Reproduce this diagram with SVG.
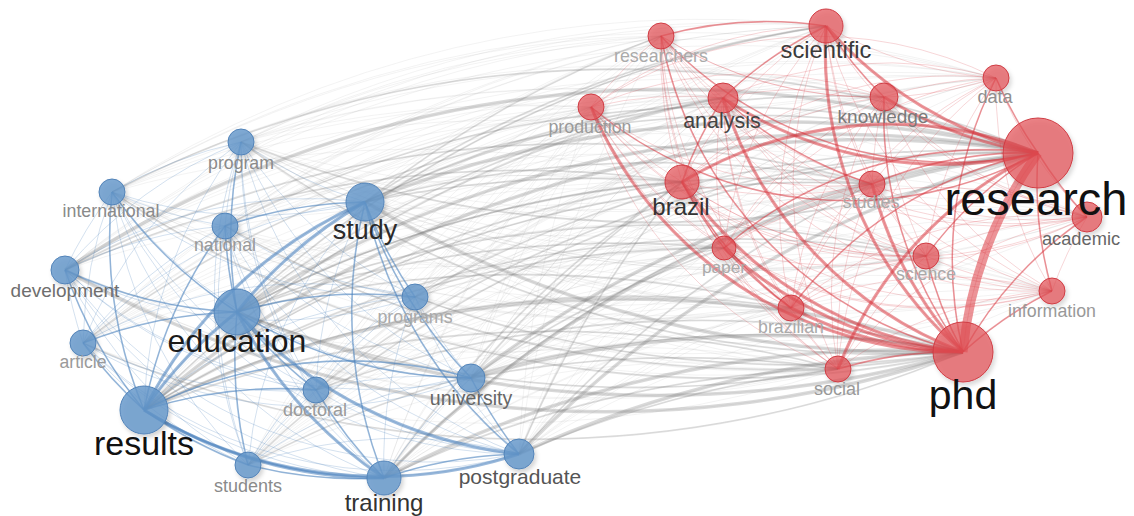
<svg xmlns="http://www.w3.org/2000/svg" width="1134" height="516" viewBox="0 0 1134 516">
<defs>
<filter id="sh" x="-50%" y="-50%" width="200%" height="200%"><feDropShadow dx="2" dy="3" stdDeviation="2" flood-color="#000" flood-opacity=".2"/></filter>
<style>
#edges path{fill:none}
.gl{stroke:#8c8c8c;stroke-opacity:.13;stroke-width:.8}
.gm{stroke:#7a7a7a;stroke-opacity:.22;stroke-width:1.8}
.gh{stroke:#777;stroke-opacity:.28;stroke-width:3.5}
.bl{stroke:#4a82bd;stroke-opacity:.3;stroke-width:.8}
.bm{stroke:#4a82bd;stroke-opacity:.5;stroke-width:1.6}
.bh{stroke:#4a82bd;stroke-opacity:.55;stroke-width:3.2}
.rl{stroke:#d8343c;stroke-opacity:.25;stroke-width:.8}
.rm{stroke:#d8343c;stroke-opacity:.45;stroke-width:1.6}
.rh{stroke:#d8343c;stroke-opacity:.5;stroke-width:3.2}
.rx{stroke:#dc3a42;stroke-opacity:.55;stroke-width:9}
.nb circle{fill:#6597cb;fill-opacity:.82;stroke:#5283b8;stroke-width:1;filter:url(#sh)}
.nr circle{fill:#e34e55;fill-opacity:.7;stroke:#cf3c43;stroke-width:1;filter:url(#sh)}
text{font-family:"Liberation Sans",Arial,sans-serif;text-anchor:middle}
</style>
</defs>
<rect width="1134" height="516" fill="#fff"/>
<g id="edges">
<g class="gl">
<path d="M65 270A1100 1100 0 0 1 591 107"/><path d="M65 270A1100 1100 0 0 1 661 36"/><path d="M65 270A1100 1100 0 0 1 682 182"/><path d="M65 270A1100 1100 0 0 1 723 98"/><path d="M65 270A1100 1100 0 0 1 724 248"/><path d="M65 270A1100 1100 0 0 0 791 308"/><path d="M65 270A1100 1100 0 0 1 826 26"/><path d="M65 270A1100 1100 0 0 0 838 369"/><path d="M65 270A1100 1100 0 0 1 872 184"/><path d="M65 270A1100 1100 0 0 1 884 97"/><path d="M65 270A1100 1100 0 0 1 926 256"/><path d="M65 270A1100 1100 0 0 0 963 352"/><path d="M65 270A1100 1100 0 0 1 996 78"/><path d="M65 270A1100 1100 0 0 1 1038 153"/><path d="M65 270A1100 1100 0 0 0 1052 291"/><path d="M65 270A1100 1100 0 0 1 1087 217"/>
<path d="M83 343A1100 1100 0 0 1 591 107"/><path d="M83 343A1100 1100 0 0 1 661 36"/><path d="M83 343A1100 1100 0 0 1 682 182"/><path d="M83 343A1100 1100 0 0 1 723 98"/><path d="M83 343A1100 1100 0 0 1 724 248"/><path d="M83 343A1100 1100 0 0 1 791 308"/><path d="M83 343A1100 1100 0 0 1 826 26"/><path d="M83 343A1100 1100 0 0 0 838 369"/><path d="M83 343A1100 1100 0 0 1 872 184"/><path d="M83 343A1100 1100 0 0 1 884 97"/><path d="M83 343A1100 1100 0 0 1 926 256"/><path d="M83 343A1100 1100 0 0 0 963 352"/><path d="M83 343A1100 1100 0 0 1 996 78"/><path d="M83 343A1100 1100 0 0 1 1038 153"/><path d="M83 343A1100 1100 0 0 1 1052 291"/><path d="M83 343A1100 1100 0 0 1 1087 217"/>
<path d="M112 192A1100 1100 0 0 1 591 107"/><path d="M112 192A1100 1100 0 0 1 661 36"/><path d="M112 192A1100 1100 0 0 1 682 182"/><path d="M112 192A1100 1100 0 0 1 723 98"/><path d="M112 192A1100 1100 0 0 0 724 248"/><path d="M112 192A1100 1100 0 0 0 791 308"/><path d="M112 192A1100 1100 0 0 1 826 26"/><path d="M112 192A1100 1100 0 0 0 838 369"/><path d="M112 192A1100 1100 0 0 1 872 184"/><path d="M112 192A1100 1100 0 0 1 884 97"/><path d="M112 192A1100 1100 0 0 0 926 256"/><path d="M112 192A1100 1100 0 0 0 963 352"/><path d="M112 192A1100 1100 0 0 1 996 78"/><path d="M112 192A1100 1100 0 0 1 1038 153"/><path d="M112 192A1100 1100 0 0 0 1052 291"/><path d="M112 192A1100 1100 0 0 0 1087 217"/>
<path d="M144 410A1100 1100 0 0 1 591 107"/><path d="M144 410A1100 1100 0 0 1 661 36"/><path d="M144 410A1100 1100 0 0 1 682 182"/><path d="M144 410A1100 1100 0 0 1 723 98"/><path d="M144 410A1100 1100 0 0 1 724 248"/><path d="M144 410A1100 1100 0 0 1 791 308"/><path d="M144 410A1100 1100 0 0 1 826 26"/><path d="M144 410A1100 1100 0 0 1 838 369"/><path d="M144 410A1100 1100 0 0 1 872 184"/><path d="M144 410A1100 1100 0 0 1 884 97"/><path d="M144 410A1100 1100 0 0 1 926 256"/><path d="M144 410A1100 1100 0 0 1 963 352"/><path d="M144 410A1100 1100 0 0 1 996 78"/><path d="M144 410A1100 1100 0 0 1 1038 153"/><path d="M144 410A1100 1100 0 0 1 1052 291"/><path d="M144 410A1100 1100 0 0 1 1087 217"/>
<path d="M225 226A1100 1100 0 0 1 591 107"/><path d="M225 226A1100 1100 0 0 1 661 36"/><path d="M225 226A1100 1100 0 0 1 682 182"/><path d="M225 226A1100 1100 0 0 1 723 98"/><path d="M225 226A1100 1100 0 0 0 724 248"/><path d="M225 226A1100 1100 0 0 0 791 308"/><path d="M225 226A1100 1100 0 0 1 826 26"/><path d="M225 226A1100 1100 0 0 0 838 369"/><path d="M225 226A1100 1100 0 0 1 872 184"/><path d="M225 226A1100 1100 0 0 1 884 97"/><path d="M225 226A1100 1100 0 0 0 926 256"/><path d="M225 226A1100 1100 0 0 0 963 352"/><path d="M225 226A1100 1100 0 0 1 996 78"/><path d="M225 226A1100 1100 0 0 1 1038 153"/><path d="M225 226A1100 1100 0 0 0 1052 291"/><path d="M225 226A1100 1100 0 0 1 1087 217"/>
<path d="M237 312A1100 1100 0 0 1 591 107"/><path d="M237 312A1100 1100 0 0 1 661 36"/><path d="M237 312A1100 1100 0 0 1 682 182"/><path d="M237 312A1100 1100 0 0 1 723 98"/><path d="M237 312A1100 1100 0 0 1 724 248"/><path d="M237 312A1100 1100 0 0 1 791 308"/><path d="M237 312A1100 1100 0 0 1 826 26"/><path d="M237 312A1100 1100 0 0 0 838 369"/><path d="M237 312A1100 1100 0 0 1 872 184"/><path d="M237 312A1100 1100 0 0 1 884 97"/><path d="M237 312A1100 1100 0 0 1 926 256"/><path d="M237 312A1100 1100 0 0 0 963 352"/><path d="M237 312A1100 1100 0 0 1 996 78"/><path d="M237 312A1100 1100 0 0 1 1038 153"/><path d="M237 312A1100 1100 0 0 1 1052 291"/><path d="M237 312A1100 1100 0 0 1 1087 217"/>
<path d="M241 142A1100 1100 0 0 1 591 107"/><path d="M241 142A1100 1100 0 0 1 661 36"/><path d="M241 142A1100 1100 0 0 0 682 182"/><path d="M241 142A1100 1100 0 0 1 723 98"/><path d="M241 142A1100 1100 0 0 0 724 248"/><path d="M241 142A1100 1100 0 0 0 791 308"/><path d="M241 142A1100 1100 0 0 1 826 26"/><path d="M241 142A1100 1100 0 0 0 838 369"/><path d="M241 142A1100 1100 0 0 0 872 184"/><path d="M241 142A1100 1100 0 0 1 884 97"/><path d="M241 142A1100 1100 0 0 0 926 256"/><path d="M241 142A1100 1100 0 0 0 963 352"/><path d="M241 142A1100 1100 0 0 1 996 78"/><path d="M241 142A1100 1100 0 0 0 1038 153"/><path d="M241 142A1100 1100 0 0 0 1052 291"/><path d="M241 142A1100 1100 0 0 0 1087 217"/>
<path d="M248 465A1100 1100 0 0 1 591 107"/><path d="M248 465A1100 1100 0 0 1 661 36"/><path d="M248 465A1100 1100 0 0 1 682 182"/><path d="M248 465A1100 1100 0 0 1 723 98"/><path d="M248 465A1100 1100 0 0 1 724 248"/><path d="M248 465A1100 1100 0 0 1 791 308"/><path d="M248 465A1100 1100 0 0 1 826 26"/><path d="M248 465A1100 1100 0 0 1 838 369"/><path d="M248 465A1100 1100 0 0 1 872 184"/><path d="M248 465A1100 1100 0 0 1 884 97"/><path d="M248 465A1100 1100 0 0 1 926 256"/><path d="M248 465A1100 1100 0 0 1 963 352"/><path d="M248 465A1100 1100 0 0 1 996 78"/><path d="M248 465A1100 1100 0 0 1 1038 153"/><path d="M248 465A1100 1100 0 0 1 1052 291"/><path d="M248 465A1100 1100 0 0 1 1087 217"/>
<path d="M316 390A1100 1100 0 0 1 591 107"/><path d="M316 390A1100 1100 0 0 1 661 36"/><path d="M316 390A1100 1100 0 0 1 682 182"/><path d="M316 390A1100 1100 0 0 1 723 98"/><path d="M316 390A1100 1100 0 0 1 724 248"/><path d="M316 390A1100 1100 0 0 1 791 308"/><path d="M316 390A1100 1100 0 0 1 826 26"/><path d="M316 390A1100 1100 0 0 1 838 369"/><path d="M316 390A1100 1100 0 0 1 872 184"/><path d="M316 390A1100 1100 0 0 1 884 97"/><path d="M316 390A1100 1100 0 0 1 926 256"/><path d="M316 390A1100 1100 0 0 1 963 352"/><path d="M316 390A1100 1100 0 0 1 996 78"/><path d="M316 390A1100 1100 0 0 1 1038 153"/><path d="M316 390A1100 1100 0 0 1 1052 291"/><path d="M316 390A1100 1100 0 0 1 1087 217"/>
<path d="M365 202A1100 1100 0 0 1 591 107"/><path d="M365 202A1100 1100 0 0 1 661 36"/><path d="M365 202A1100 1100 0 0 1 682 182"/><path d="M365 202A1100 1100 0 0 1 723 98"/><path d="M365 202A1100 1100 0 0 0 724 248"/><path d="M365 202A1100 1100 0 0 0 791 308"/><path d="M365 202A1100 1100 0 0 1 826 26"/><path d="M365 202A1100 1100 0 0 0 838 369"/><path d="M365 202A1100 1100 0 0 1 872 184"/><path d="M365 202A1100 1100 0 0 1 884 97"/><path d="M365 202A1100 1100 0 0 0 926 256"/><path d="M365 202A1100 1100 0 0 0 963 352"/><path d="M365 202A1100 1100 0 0 1 996 78"/><path d="M365 202A1100 1100 0 0 1 1038 153"/><path d="M365 202A1100 1100 0 0 0 1052 291"/><path d="M365 202A1100 1100 0 0 0 1087 217"/>
<path d="M384 478A1100 1100 0 0 1 591 107"/><path d="M384 478A1100 1100 0 0 1 661 36"/><path d="M384 478A1100 1100 0 0 1 682 182"/><path d="M384 478A1100 1100 0 0 1 723 98"/><path d="M384 478A1100 1100 0 0 1 724 248"/><path d="M384 478A1100 1100 0 0 1 791 308"/><path d="M384 478A1100 1100 0 0 1 826 26"/><path d="M384 478A1100 1100 0 0 1 838 369"/><path d="M384 478A1100 1100 0 0 1 872 184"/><path d="M384 478A1100 1100 0 0 1 884 97"/><path d="M384 478A1100 1100 0 0 1 926 256"/><path d="M384 478A1100 1100 0 0 1 963 352"/><path d="M384 478A1100 1100 0 0 1 996 78"/><path d="M384 478A1100 1100 0 0 1 1038 153"/><path d="M384 478A1100 1100 0 0 1 1052 291"/><path d="M384 478A1100 1100 0 0 1 1087 217"/>
<path d="M415 297A1100 1100 0 0 1 591 107"/><path d="M415 297A1100 1100 0 0 1 661 36"/><path d="M415 297A1100 1100 0 0 1 682 182"/><path d="M415 297A1100 1100 0 0 1 723 98"/><path d="M415 297A1100 1100 0 0 1 724 248"/><path d="M415 297A1100 1100 0 0 0 791 308"/><path d="M415 297A1100 1100 0 0 1 826 26"/><path d="M415 297A1100 1100 0 0 0 838 369"/><path d="M415 297A1100 1100 0 0 1 872 184"/><path d="M415 297A1100 1100 0 0 1 884 97"/><path d="M415 297A1100 1100 0 0 1 926 256"/><path d="M415 297A1100 1100 0 0 0 963 352"/><path d="M415 297A1100 1100 0 0 1 996 78"/><path d="M415 297A1100 1100 0 0 1 1038 153"/><path d="M415 297A1100 1100 0 0 1 1052 291"/><path d="M415 297A1100 1100 0 0 1 1087 217"/>
<path d="M471 378A1100 1100 0 0 1 591 107"/><path d="M471 378A1100 1100 0 0 1 661 36"/><path d="M471 378A1100 1100 0 0 1 682 182"/><path d="M471 378A1100 1100 0 0 1 723 98"/><path d="M471 378A1100 1100 0 0 1 724 248"/><path d="M471 378A1100 1100 0 0 1 791 308"/><path d="M471 378A1100 1100 0 0 1 826 26"/><path d="M471 378A1100 1100 0 0 1 838 369"/><path d="M471 378A1100 1100 0 0 1 872 184"/><path d="M471 378A1100 1100 0 0 1 884 97"/><path d="M471 378A1100 1100 0 0 1 926 256"/><path d="M471 378A1100 1100 0 0 1 963 352"/><path d="M471 378A1100 1100 0 0 1 996 78"/><path d="M471 378A1100 1100 0 0 1 1038 153"/><path d="M471 378A1100 1100 0 0 1 1052 291"/><path d="M471 378A1100 1100 0 0 1 1087 217"/>
<path d="M519 454A1100 1100 0 0 1 591 107"/><path d="M519 454A1100 1100 0 0 1 661 36"/><path d="M519 454A1100 1100 0 0 1 682 182"/><path d="M519 454A1100 1100 0 0 1 723 98"/><path d="M519 454A1100 1100 0 0 1 724 248"/><path d="M519 454A1100 1100 0 0 1 791 308"/><path d="M519 454A1100 1100 0 0 1 826 26"/><path d="M519 454A1100 1100 0 0 1 838 369"/><path d="M519 454A1100 1100 0 0 1 872 184"/><path d="M519 454A1100 1100 0 0 1 884 97"/><path d="M519 454A1100 1100 0 0 1 926 256"/><path d="M519 454A1100 1100 0 0 1 963 352"/><path d="M519 454A1100 1100 0 0 1 996 78"/><path d="M519 454A1100 1100 0 0 1 1038 153"/><path d="M519 454A1100 1100 0 0 1 1052 291"/><path d="M519 454A1100 1100 0 0 1 1087 217"/>
</g>
<g class="gm">
<path d="M365 202A1100 1100 0 0 1 661 36"/><path d="M365 202A1100 1100 0 0 1 682 182"/><path d="M365 202A1100 1100 0 0 1 826 26"/><path d="M365 202A1100 1100 0 0 1 723 98"/><path d="M365 202A1100 1100 0 0 1 872 184"/><path d="M365 202A1100 1100 0 0 1 884 97"/>
<path d="M237 312A1100 1100 0 0 1 682 182"/><path d="M237 312A1100 1100 0 0 1 826 26"/><path d="M237 312A1100 1100 0 0 1 723 98"/><path d="M237 312A1100 1100 0 0 1 872 184"/><path d="M237 312A1100 1100 0 0 1 724 248"/><path d="M237 312A1100 1100 0 0 1 791 308"/><path d="M237 312A1100 1100 0 0 0 838 369"/><path d="M237 312A1100 1100 0 0 1 926 256"/>
<path d="M144 410A1100 1100 0 0 1 682 182"/><path d="M144 410A1100 1100 0 0 1 872 184"/><path d="M144 410A1100 1100 0 0 1 724 248"/><path d="M144 410A1100 1100 0 0 1 791 308"/><path d="M144 410A1100 1100 0 0 1 838 369"/><path d="M144 410A1100 1100 0 0 1 723 98"/><path d="M144 410A1100 1100 0 0 1 926 256"/>
<path d="M65 270A1100 1100 0 0 1 682 182"/><path d="M65 270A1100 1100 0 0 1 872 184"/>
<path d="M83 343A1100 1100 0 0 1 1038 153"/><path d="M83 343A1100 1100 0 0 0 963 352"/>
<path d="M248 465A1100 1100 0 0 1 1038 153"/><path d="M248 465A1100 1100 0 0 1 963 352"/>
<path d="M316 390A1100 1100 0 0 1 1038 153"/><path d="M316 390A1100 1100 0 0 1 963 352"/>
<path d="M415 297A1100 1100 0 0 1 1038 153"/><path d="M415 297A1100 1100 0 0 0 963 352"/>
<path d="M225 226A1100 1100 0 0 1 1038 153"/><path d="M225 226A1100 1100 0 0 0 963 352"/>
<path d="M112 192A1100 1100 0 0 1 1038 153"/><path d="M112 192A1100 1100 0 0 0 963 352"/>
<path d="M241 142A1100 1100 0 0 0 1038 153"/><path d="M241 142A1100 1100 0 0 0 963 352"/>
<path d="M384 478A1100 1100 0 0 1 682 182"/><path d="M384 478A1100 1100 0 0 1 838 369"/><path d="M384 478A1100 1100 0 0 1 872 184"/>
<path d="M519 454A1100 1100 0 0 1 682 182"/><path d="M519 454A1100 1100 0 0 1 838 369"/><path d="M519 454A1100 1100 0 0 1 872 184"/>
<path d="M471 378A1100 1100 0 0 1 682 182"/><path d="M471 378A1100 1100 0 0 1 838 369"/><path d="M471 378A1100 1100 0 0 1 724 248"/>
</g>
<g class="gh">
<path d="M237 312A1100 1100 0 0 1 1038 153"/><path d="M237 312A1100 1100 0 0 0 963 352"/>
<path d="M144 410A1100 1100 0 0 1 1038 153"/><path d="M144 410A1100 1100 0 0 1 963 352"/>
<path d="M365 202A1100 1100 0 0 1 1038 153"/><path d="M365 202A1100 1100 0 0 0 963 352"/>
<path d="M384 478A1100 1100 0 0 1 1038 153"/><path d="M384 478A1100 1100 0 0 1 963 352"/>
<path d="M519 454A1100 1100 0 0 1 1038 153"/><path d="M519 454A1100 1100 0 0 1 963 352"/>
<path d="M471 378A1100 1100 0 0 1 1038 153"/><path d="M471 378A1100 1100 0 0 1 963 352"/>
<path d="M65 270A1100 1100 0 0 1 1038 153"/><path d="M65 270A1100 1100 0 0 0 963 352"/>
</g>
<g class="bl">
<path d="M65 270A450 450 0 0 0 83 343"/><path d="M65 270A450 450 0 0 1 112 192"/><path d="M65 270A450 450 0 0 0 144 410"/><path d="M65 270A450 450 0 0 1 225 226"/><path d="M65 270A450 450 0 0 0 237 312"/><path d="M65 270A450 450 0 0 1 241 142"/><path d="M65 270A450 450 0 0 0 248 465"/><path d="M65 270A450 450 0 0 0 316 390"/><path d="M65 270A450 450 0 0 1 365 202"/><path d="M65 270A450 450 0 0 0 384 478"/><path d="M65 270A450 450 0 0 0 415 297"/><path d="M65 270A450 450 0 0 0 471 378"/><path d="M65 270A450 450 0 0 0 519 454"/>
<path d="M83 343A450 450 0 0 1 112 192"/><path d="M83 343A450 450 0 0 0 144 410"/><path d="M83 343A450 450 0 0 1 225 226"/><path d="M83 343A450 450 0 0 1 237 312"/><path d="M83 343A450 450 0 0 1 241 142"/><path d="M83 343A450 450 0 0 0 248 465"/><path d="M83 343A450 450 0 0 0 316 390"/><path d="M83 343A450 450 0 0 1 365 202"/><path d="M83 343A450 450 0 0 0 384 478"/><path d="M83 343A450 450 0 0 1 415 297"/><path d="M83 343A450 450 0 0 0 471 378"/><path d="M83 343A450 450 0 0 0 519 454"/>
<path d="M112 192A450 450 0 0 0 144 410"/><path d="M112 192A450 450 0 0 0 225 226"/><path d="M112 192A450 450 0 0 0 237 312"/><path d="M112 192A450 450 0 0 1 241 142"/><path d="M112 192A450 450 0 0 0 248 465"/><path d="M112 192A450 450 0 0 0 316 390"/><path d="M112 192A450 450 0 0 0 365 202"/><path d="M112 192A450 450 0 0 0 384 478"/><path d="M112 192A450 450 0 0 0 415 297"/><path d="M112 192A450 450 0 0 0 471 378"/><path d="M112 192A450 450 0 0 0 519 454"/>
<path d="M144 410A450 450 0 0 1 225 226"/><path d="M144 410A450 450 0 0 1 237 312"/><path d="M144 410A450 450 0 0 1 241 142"/><path d="M144 410A450 450 0 0 0 248 465"/><path d="M144 410A450 450 0 0 1 316 390"/><path d="M144 410A450 450 0 0 1 365 202"/><path d="M144 410A450 450 0 0 0 384 478"/><path d="M144 410A450 450 0 0 1 415 297"/><path d="M144 410A450 450 0 0 1 471 378"/><path d="M144 410A450 450 0 0 0 519 454"/>
<path d="M225 226A450 450 0 0 0 237 312"/><path d="M225 226A450 450 0 0 1 241 142"/><path d="M225 226A450 450 0 0 0 248 465"/><path d="M225 226A450 450 0 0 0 316 390"/><path d="M225 226A450 450 0 0 1 365 202"/><path d="M225 226A450 450 0 0 0 384 478"/><path d="M225 226A450 450 0 0 0 415 297"/><path d="M225 226A450 450 0 0 0 471 378"/><path d="M225 226A450 450 0 0 0 519 454"/>
<path d="M237 312A450 450 0 0 1 241 142"/><path d="M237 312A450 450 0 0 0 248 465"/><path d="M237 312A450 450 0 0 0 316 390"/><path d="M237 312A450 450 0 0 1 365 202"/><path d="M237 312A450 450 0 0 0 384 478"/><path d="M237 312A450 450 0 0 1 415 297"/><path d="M237 312A450 450 0 0 0 471 378"/><path d="M237 312A450 450 0 0 0 519 454"/>
<path d="M241 142A450 450 0 0 0 248 465"/><path d="M241 142A450 450 0 0 0 316 390"/><path d="M241 142A450 450 0 0 0 365 202"/><path d="M241 142A450 450 0 0 0 384 478"/><path d="M241 142A450 450 0 0 0 415 297"/><path d="M241 142A450 450 0 0 0 471 378"/><path d="M241 142A450 450 0 0 0 519 454"/>
<path d="M248 465A450 450 0 0 1 316 390"/><path d="M248 465A450 450 0 0 1 365 202"/><path d="M248 465A450 450 0 0 0 384 478"/><path d="M248 465A450 450 0 0 1 415 297"/><path d="M248 465A450 450 0 0 1 471 378"/><path d="M248 465A450 450 0 0 1 519 454"/>
<path d="M316 390A450 450 0 0 1 365 202"/><path d="M316 390A450 450 0 0 0 384 478"/><path d="M316 390A450 450 0 0 1 415 297"/><path d="M316 390A450 450 0 0 1 471 378"/><path d="M316 390A450 450 0 0 0 519 454"/>
<path d="M365 202A450 450 0 0 0 384 478"/><path d="M365 202A450 450 0 0 0 415 297"/><path d="M365 202A450 450 0 0 0 471 378"/><path d="M365 202A450 450 0 0 0 519 454"/>
<path d="M384 478A450 450 0 0 1 415 297"/><path d="M384 478A450 450 0 0 1 471 378"/><path d="M384 478A450 450 0 0 1 519 454"/>
<path d="M415 297A450 450 0 0 0 471 378"/><path d="M415 297A450 450 0 0 0 519 454"/>
<path d="M471 378A450 450 0 0 0 519 454"/>
</g>
<g class="bm">
<path d="M65 270A450 450 0 0 0 237 312"/><path d="M225 226A450 450 0 0 0 237 312"/><path d="M83 343A450 450 0 0 0 144 410"/><path d="M83 343A450 450 0 0 1 237 312"/><path d="M112 192A450 450 0 0 0 237 312"/><path d="M237 312A450 450 0 0 1 241 142"/><path d="M144 410A450 450 0 0 0 248 465"/><path d="M144 410A450 450 0 0 1 316 390"/><path d="M237 312A450 450 0 0 0 316 390"/><path d="M237 312A450 450 0 0 0 248 465"/><path d="M365 202A450 450 0 0 0 471 378"/><path d="M365 202A450 450 0 0 0 519 454"/><path d="M365 202A450 450 0 0 0 384 478"/><path d="M384 478A450 450 0 0 1 519 454"/><path d="M471 378A450 450 0 0 0 519 454"/><path d="M237 312A450 450 0 0 1 415 297"/><path d="M365 202A450 450 0 0 0 415 297"/><path d="M144 410A450 450 0 0 1 471 378"/><path d="M237 312A450 450 0 0 0 471 378"/><path d="M225 226A450 450 0 0 1 365 202"/><path d="M248 465A450 450 0 0 0 384 478"/><path d="M316 390A450 450 0 0 0 384 478"/><path d="M65 270A450 450 0 0 0 144 410"/><path d="M112 192A450 450 0 0 0 144 410"/><path d="M144 410A450 450 0 0 1 225 226"/>
</g>
<g class="bh">
<path d="M144 410A450 450 0 0 1 237 312"/><path d="M237 312A450 450 0 0 1 365 202"/><path d="M144 410A450 450 0 0 1 365 202"/><path d="M237 312A450 450 0 0 0 519 454"/><path d="M144 410A450 450 0 0 0 384 478"/><path d="M144 410A450 450 0 0 0 519 454"/><path d="M237 312A450 450 0 0 0 384 478"/>
</g>
<g class="rl">
<path d="M591 107A400 400 0 0 1 661 36"/><path d="M591 107A400 400 0 0 0 682 182"/><path d="M591 107A400 400 0 0 1 723 98"/><path d="M591 107A400 400 0 0 0 724 248"/><path d="M591 107A400 400 0 0 0 791 308"/><path d="M591 107A400 400 0 0 1 826 26"/><path d="M591 107A400 400 0 0 0 838 369"/><path d="M591 107A400 400 0 0 0 872 184"/><path d="M591 107A400 400 0 0 1 884 97"/><path d="M591 107A400 400 0 0 0 926 256"/><path d="M591 107A400 400 0 0 0 963 352"/><path d="M591 107A400 400 0 0 1 996 78"/><path d="M591 107A400 400 0 0 0 1038 153"/><path d="M591 107A400 400 0 0 0 1052 291"/><path d="M591 107A400 400 0 0 0 1087 217"/>
<path d="M661 36A400 400 0 0 0 682 182"/><path d="M661 36A400 400 0 0 0 723 98"/><path d="M661 36A400 400 0 0 0 724 248"/><path d="M661 36A400 400 0 0 0 791 308"/><path d="M661 36A400 400 0 0 1 826 26"/><path d="M661 36A400 400 0 0 0 838 369"/><path d="M661 36A400 400 0 0 0 872 184"/><path d="M661 36A400 400 0 0 0 884 97"/><path d="M661 36A400 400 0 0 0 926 256"/><path d="M661 36A400 400 0 0 0 963 352"/><path d="M661 36A400 400 0 0 0 996 78"/><path d="M661 36A400 400 0 0 0 1038 153"/><path d="M661 36A400 400 0 0 0 1052 291"/><path d="M661 36A400 400 0 0 0 1087 217"/>
<path d="M682 182A400 400 0 0 1 723 98"/><path d="M682 182A400 400 0 0 0 724 248"/><path d="M682 182A400 400 0 0 0 791 308"/><path d="M682 182A400 400 0 0 1 826 26"/><path d="M682 182A400 400 0 0 0 838 369"/><path d="M682 182A400 400 0 0 0 872 184"/><path d="M682 182A400 400 0 0 1 884 97"/><path d="M682 182A400 400 0 0 0 926 256"/><path d="M682 182A400 400 0 0 0 963 352"/><path d="M682 182A400 400 0 0 1 996 78"/><path d="M682 182A400 400 0 0 1 1038 153"/><path d="M682 182A400 400 0 0 0 1052 291"/><path d="M682 182A400 400 0 0 0 1087 217"/>
<path d="M723 98A400 400 0 0 0 724 248"/><path d="M723 98A400 400 0 0 0 791 308"/><path d="M723 98A400 400 0 0 1 826 26"/><path d="M723 98A400 400 0 0 0 838 369"/><path d="M723 98A400 400 0 0 0 872 184"/><path d="M723 98A400 400 0 0 1 884 97"/><path d="M723 98A400 400 0 0 0 926 256"/><path d="M723 98A400 400 0 0 0 963 352"/><path d="M723 98A400 400 0 0 1 996 78"/><path d="M723 98A400 400 0 0 0 1038 153"/><path d="M723 98A400 400 0 0 0 1052 291"/><path d="M723 98A400 400 0 0 0 1087 217"/>
<path d="M724 248A400 400 0 0 0 791 308"/><path d="M724 248A400 400 0 0 1 826 26"/><path d="M724 248A400 400 0 0 0 838 369"/><path d="M724 248A400 400 0 0 1 872 184"/><path d="M724 248A400 400 0 0 1 884 97"/><path d="M724 248A400 400 0 0 0 926 256"/><path d="M724 248A400 400 0 0 0 963 352"/><path d="M724 248A400 400 0 0 1 996 78"/><path d="M724 248A400 400 0 0 1 1038 153"/><path d="M724 248A400 400 0 0 0 1052 291"/><path d="M724 248A400 400 0 0 1 1087 217"/>
<path d="M791 308A400 400 0 0 1 826 26"/><path d="M791 308A400 400 0 0 0 838 369"/><path d="M791 308A400 400 0 0 1 872 184"/><path d="M791 308A400 400 0 0 1 884 97"/><path d="M791 308A400 400 0 0 1 926 256"/><path d="M791 308A400 400 0 0 0 963 352"/><path d="M791 308A400 400 0 0 1 996 78"/><path d="M791 308A400 400 0 0 1 1038 153"/><path d="M791 308A400 400 0 0 1 1052 291"/><path d="M791 308A400 400 0 0 1 1087 217"/>
<path d="M826 26A400 400 0 0 0 838 369"/><path d="M826 26A400 400 0 0 0 872 184"/><path d="M826 26A400 400 0 0 0 884 97"/><path d="M826 26A400 400 0 0 0 926 256"/><path d="M826 26A400 400 0 0 0 963 352"/><path d="M826 26A400 400 0 0 0 996 78"/><path d="M826 26A400 400 0 0 0 1038 153"/><path d="M826 26A400 400 0 0 0 1052 291"/><path d="M826 26A400 400 0 0 0 1087 217"/>
<path d="M838 369A400 400 0 0 1 872 184"/><path d="M838 369A400 400 0 0 1 884 97"/><path d="M838 369A400 400 0 0 1 926 256"/><path d="M838 369A400 400 0 0 1 963 352"/><path d="M838 369A400 400 0 0 1 996 78"/><path d="M838 369A400 400 0 0 1 1038 153"/><path d="M838 369A400 400 0 0 1 1052 291"/><path d="M838 369A400 400 0 0 1 1087 217"/>
<path d="M872 184A400 400 0 0 1 884 97"/><path d="M872 184A400 400 0 0 0 926 256"/><path d="M872 184A400 400 0 0 0 963 352"/><path d="M872 184A400 400 0 0 1 996 78"/><path d="M872 184A400 400 0 0 1 1038 153"/><path d="M872 184A400 400 0 0 0 1052 291"/><path d="M872 184A400 400 0 0 0 1087 217"/>
<path d="M884 97A400 400 0 0 0 926 256"/><path d="M884 97A400 400 0 0 0 963 352"/><path d="M884 97A400 400 0 0 1 996 78"/><path d="M884 97A400 400 0 0 0 1038 153"/><path d="M884 97A400 400 0 0 0 1052 291"/><path d="M884 97A400 400 0 0 0 1087 217"/>
<path d="M926 256A400 400 0 0 0 963 352"/><path d="M926 256A400 400 0 0 1 996 78"/><path d="M926 256A400 400 0 0 1 1038 153"/><path d="M926 256A400 400 0 0 0 1052 291"/><path d="M926 256A400 400 0 0 1 1087 217"/>
<path d="M963 352A400 400 0 0 1 996 78"/><path d="M963 352A400 400 0 0 1 1038 153"/><path d="M963 352A400 400 0 0 1 1052 291"/><path d="M963 352A400 400 0 0 1 1087 217"/>
<path d="M996 78A400 400 0 0 0 1038 153"/><path d="M996 78A400 400 0 0 0 1052 291"/><path d="M996 78A400 400 0 0 0 1087 217"/>
<path d="M1038 153A400 400 0 0 0 1052 291"/><path d="M1038 153A400 400 0 0 0 1087 217"/>
<path d="M1052 291A400 400 0 0 1 1087 217"/>
</g>
<g class="rm">
<path d="M996 78A400 400 0 0 0 1038 153"/><path d="M872 184A400 400 0 0 1 1038 153"/><path d="M926 256A400 400 0 0 0 963 352"/><path d="M963 352A400 400 0 0 1 1052 291"/><path d="M963 352A400 400 0 0 1 1087 217"/><path d="M1038 153A400 400 0 0 0 1087 217"/><path d="M1038 153A400 400 0 0 0 1052 291"/><path d="M926 256A400 400 0 0 1 1038 153"/><path d="M661 36A400 400 0 0 0 1038 153"/><path d="M661 36A400 400 0 0 0 963 352"/><path d="M591 107A400 400 0 0 0 1038 153"/><path d="M884 97A400 400 0 0 0 963 352"/><path d="M838 369A400 400 0 0 1 963 352"/><path d="M724 248A400 400 0 0 1 1038 153"/><path d="M791 308A400 400 0 0 1 1038 153"/><path d="M682 182A400 400 0 0 1 723 98"/><path d="M682 182A400 400 0 0 0 724 248"/><path d="M682 182A400 400 0 0 0 791 308"/><path d="M723 98A400 400 0 0 1 826 26"/><path d="M661 36A400 400 0 0 1 826 26"/><path d="M826 26A400 400 0 0 0 884 97"/><path d="M963 352A400 400 0 0 1 996 78"/><path d="M724 248A400 400 0 0 0 791 308"/><path d="M723 98A400 400 0 0 0 872 184"/>
</g>
<g class="rh">
<path d="M682 182A400 400 0 0 0 963 352"/><path d="M682 182A400 400 0 0 1 1038 153"/><path d="M826 26A400 400 0 0 0 1038 153"/><path d="M724 248A400 400 0 0 0 963 352"/><path d="M791 308A400 400 0 0 0 963 352"/><path d="M723 98A400 400 0 0 0 963 352"/><path d="M723 98A400 400 0 0 0 1038 153"/><path d="M884 97A400 400 0 0 0 1038 153"/><path d="M872 184A400 400 0 0 0 963 352"/><path d="M838 369A400 400 0 0 1 1038 153"/><path d="M826 26A400 400 0 0 0 963 352"/><path d="M591 107A400 400 0 0 0 963 352"/>
</g>
<g class="rx">
<path d="M963 352A400 400 0 0 1 1038 153"/>
</g>
</g>
<g id="nodes">
<g id="n-program" class="nb"><circle cx="241" cy="142" r="13"/><text x="241" y="169" font-size="17.7" fill="#8a8a8a">program</text></g>
<g id="n-international" class="nb"><circle cx="112" cy="192" r="13"/><text x="111" y="217" font-size="17.8" fill="#8a8a8a">international</text></g>
<g id="n-national" class="nb"><circle cx="225" cy="226" r="13"/><text x="225" y="251" font-size="17.7" fill="#999">national</text></g>
<g id="n-development" class="nb"><circle cx="65" cy="270" r="14"/><text x="65" y="297" font-size="19" fill="#6e6e6e">development</text></g>
<g id="n-article" class="nb"><circle cx="83" cy="343" r="13"/><text x="83" y="368" font-size="17.6" fill="#9a9a9a">article</text></g>
<g id="n-students" class="nb"><circle cx="248" cy="465" r="13"/><text x="248" y="492" font-size="18" fill="#8a8a8a">students</text></g>
<g id="n-programs" class="nb"><circle cx="415" cy="297" r="13"/><text x="415" y="323" font-size="17.8" fill="#aaa">programs</text></g>
<g id="n-doctoral" class="nb"><circle cx="316" cy="390" r="13"/><text x="315" y="416" font-size="18" fill="#9a9a9a">doctoral</text></g>
<g id="n-university" class="nb"><circle cx="471" cy="378" r="14"/><text x="471" y="405" font-size="19.5" fill="#666">university</text></g>
<g id="n-postgraduate" class="nb"><circle cx="519" cy="454" r="15"/><text x="520" y="484" font-size="21" fill="#555">postgraduate</text></g>
<g id="n-training" class="nb"><circle cx="384" cy="478" r="17"/><text x="384" y="511" font-size="24" fill="#333">training</text></g>
<g id="n-study" class="nb"><circle cx="365" cy="202" r="19"/><text x="365" y="239" font-size="27" fill="#2a2a2a">study</text></g>
<g id="n-education" class="nb"><circle cx="237" cy="312" r="23"/><text x="237" y="352" font-size="32" fill="#1a1a1a">education</text></g>
<g id="n-results" class="nb"><circle cx="144" cy="410" r="24"/><text x="144" y="455" font-size="34" fill="#111">results</text></g>
<g id="n-researchers" class="nr"><circle cx="661" cy="36" r="13"/><text x="661" y="62" font-size="17.8" fill="#aaa">researchers</text></g>
<g id="n-production" class="nr"><circle cx="591" cy="107" r="13"/><text x="590" y="133" font-size="17.8" fill="#9a9a9a">production</text></g>
<g id="n-data" class="nr"><circle cx="996" cy="78" r="13"/><text x="995" y="103" font-size="18" fill="#8f8f8f">data</text></g>
<g id="n-knowledge" class="nr"><circle cx="884" cy="97" r="14"/><text x="883" y="123" font-size="19" fill="#7a7a7a">knowledge</text></g>
<g id="n-studies" class="nr"><circle cx="872" cy="184" r="13"/><text x="871" y="208" font-size="18" fill="#aaa">studies</text></g>
<g id="n-paper" class="nr"><circle cx="724" cy="248" r="12"/><text x="724" y="273" font-size="17.3" fill="#aaa">paper</text></g>
<g id="n-science" class="nr"><circle cx="926" cy="256" r="13"/><text x="926" y="280" font-size="17.7" fill="#aaa">science</text></g>
<g id="n-brazilian" class="nr"><circle cx="791" cy="308" r="13"/><text x="791" y="333" font-size="17.7" fill="#aaa">brazilian</text></g>
<g id="n-information" class="nr"><circle cx="1052" cy="291" r="13"/><text x="1052" y="317" font-size="17.8" fill="#999">information</text></g>
<g id="n-social" class="nr"><circle cx="838" cy="369" r="13"/><text x="837" y="395" font-size="18" fill="#999">social</text></g>
<g id="n-academic" class="nr"><circle cx="1087" cy="217" r="15"/><text x="1081" y="245" font-size="18.3" fill="#666">academic</text></g>
<g id="n-analysis" class="nr"><circle cx="723" cy="98" r="15"/><text x="722" y="128" font-size="21.5" fill="#444">analysis</text></g>
<g id="n-scientific" class="nr"><circle cx="826" cy="26" r="17"/><text x="826" y="58" font-size="23.7" fill="#3a3a3a">scientific</text></g>
<g id="n-brazil" class="nr"><circle cx="682" cy="182" r="17"/><text x="681" y="215" font-size="24" fill="#333">brazil</text></g>
<g id="n-phd" class="nr"><circle cx="963" cy="352" r="30"/><text x="963" y="409" font-size="41" fill="#111">phd</text></g>
<g id="n-research" class="nr"><circle cx="1038" cy="153" r="35"/><text x="1036" y="215" font-size="47" fill="#111">research</text></g>
</g>
</svg>
